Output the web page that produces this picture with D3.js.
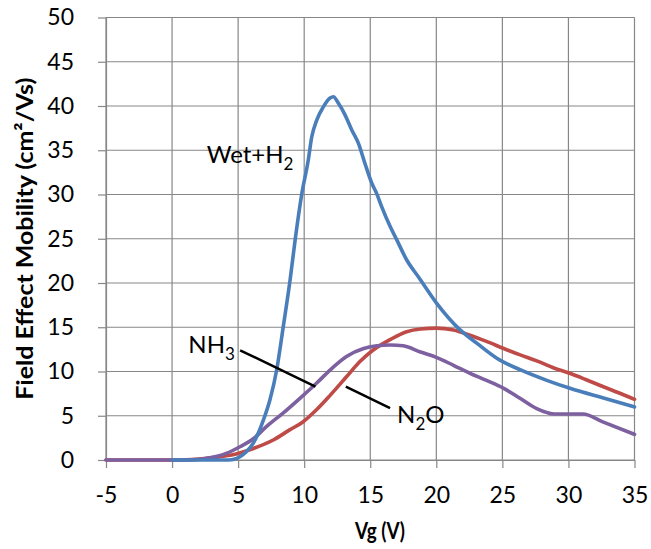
<!DOCTYPE html>
<html>
<head>
<meta charset="utf-8">
<script src="https://cdn.jsdelivr.net/npm/d3@7"></script>
<style>
  html, body { margin: 0; padding: 0; background: #fff; }
  svg { display: block; font-family: Lato, "Open Sans", sans-serif; }
</style>
</head>
<body>
<svg id="chart" width="651" height="549"></svg>
<script>
// ---- data ----
const xTicks = [-5, 0, 5, 10, 15, 20, 25, 30, 35];
const yTicks = [0, 5, 10, 15, 20, 25, 30, 35, 40, 45, 50];

const n2oVg = [-5, 0, 1, 2, 3, 4, 4.6, 6.15, 7.66, 8.9, 9.9, 10.95, 11.96, 13.2, 14.2, 15.2, 16.5, 17.76, 18.8, 20, 21.3, 22.55, 23.8, 25.1, 26.3, 27.6, 28.9, 30.1, 31.3, 32.6, 33.8, 35];
const n2oMu = [0, 0, 0.02, 0.1, 0.25, 0.45, 0.6, 1.3, 2.26, 3.4, 4.3, 5.7, 7.3, 9.4, 11.1, 12.4, 13.6, 14.5, 14.8, 14.9, 14.7, 14.1, 13.4, 12.6, 11.9, 11.2, 10.4, 9.8, 9.1, 8.3, 7.6, 6.85];

const nh3Vg = [-5, 0, 1, 2, 2.6, 3.5, 4.1, 5.14, 6.15, 7.16, 8.4, 9.7, 10.95, 12.2, 13.2, 14.5, 15.5, 16.5, 17.5, 18.8, 20, 21.3, 22.55, 23.8, 25.1, 26.3, 27.6, 28.9, 30.1, 31.1, 32.6, 35];
const nh3Mu = [0, 0, 0, 0.05, 0.2, 0.45, 0.75, 1.5, 2.4, 3.8, 5.3, 7.0, 8.7, 10.5, 11.7, 12.6, 12.9, 13.0, 12.9, 12.2, 11.6, 10.7, 9.8, 9.0, 8.1, 7.0, 5.8, 5.2, 5.2, 5.2, 4.3, 2.9];

const wetVg = [0, 1, 2, 3, 4, 4.5, 5.14, 5.6, 6.15, 6.91, 7.41, 7.92, 8.42, 8.93, 9.31, 9.81, 10.31, 10.57, 10.95, 11.45, 11.96, 12.21, 12.59, 13.09, 13.6, 14.1, 14.6, 15.11, 15.49, 15.87, 16.5, 17.0, 17.76, 18.64, 20.03, 21.8, 23.06, 24.58, 26.34, 28.36, 30.12, 32.65, 35];
const wetMu = [0, 0, 0, 0, 0, 0.02, 0.37, 0.9, 1.9, 4.5, 6.8, 10.2, 15.1, 20.3, 24.8, 30, 33.9, 36.5, 38.4, 39.9, 40.9, 41.05, 40.3, 39, 37.3, 35.8, 33.5, 31.3, 30.1, 28.6, 26.4, 24.9, 22.6, 20.7, 17.7, 14.7, 13.2, 11.5, 10.2, 9.0, 8.1, 7.0, 6.0];

const seriesNames = ["N2O", "NH3", "Wet+H2"];
const seriesColors = ["#BE4B48", "#7D60A0", "#4A7EBB"];

// ---- layout ----
const W = 651, H = 549;
const margin = { top: 17.5, right: 16.5, bottom: 89, left: 106 };
const iw = W - margin.left - margin.right;
const ih = H - margin.top - margin.bottom;

const svg = d3.select("#chart");
const g = svg.append("g").attr("transform", `translate(${margin.left},${margin.top})`);

const x = d3.scaleLinear().domain([-5, 35]).range([0, iw]);
const y = d3.scaleLinear().domain([0, 50]).range([ih, 0]);

const gridColor = "#878787";

// gridlines
g.append("g").selectAll("line").data(yTicks).join("line")
  .attr("x1", 0).attr("x2", iw)
  .attr("y1", d => y(d)).attr("y2", d => y(d))
  .attr("stroke", gridColor).attr("stroke-width", 1.2);
g.append("g").selectAll("line").data(xTicks).join("line")
  .attr("x1", d => x(d)).attr("x2", d => x(d))
  .attr("y1", 0).attr("y2", ih)
  .attr("stroke", gridColor).attr("stroke-width", 1.2);

// axes
const fmt = d => String(d);
const yAxis = g.append("g")
  .call(d3.axisLeft(y).tickValues(yTicks).tickFormat(fmt).tickSizeInner(8).tickSizeOuter(0).tickPadding(24));
const xAxis = g.append("g").attr("transform", `translate(0,${ih})`)
  .call(d3.axisBottom(x).tickValues(xTicks).tickFormat(fmt).tickSizeInner(8).tickSizeOuter(0).tickPadding(18.5));
[yAxis, xAxis].forEach(a => {
  a.attr("font-size", 23).attr("font-family", "Lato, sans-serif");
  a.selectAll("path, line").attr("stroke", gridColor).attr("stroke-width", 1.2);
  a.selectAll("text").attr("fill", "#000");
});

// series
const line = d3.line().x(d => x(d[0])).y(d => y(d[1])).curve(d3.curveMonotoneX);
const seriesData = [
  d3.zip(n2oVg, n2oMu),
  d3.zip(nh3Vg, nh3Mu),
  d3.zip(wetVg, wetMu)
];
seriesData.forEach((data, i) => {
  g.append("path").datum(data)
    .attr("fill", "none")
    .attr("stroke", seriesColors[i])
    .attr("stroke-width", 3.6)
    .attr("stroke-linejoin", "round")
    .attr("stroke-linecap", "round")
    .attr("d", line);
});

// annotations (positions in data coordinates)
const ann = svg.append("g").attr("transform", `translate(${margin.left},${margin.top})`);
function label(tx, ty, main, sub, after) {
  const t = ann.append("text")
    .attr("x", x(tx)).attr("y", y(ty))
    .style("font-size", "24px").attr("fill", "#000");
  t.append("tspan").text(main);
  t.append("tspan").text(sub).style("font-size", "17px").attr("dy", 7);
  if (after) t.append("tspan").text(after).attr("dy", -7);
}
label(2.62, 33.6, "Wet+H", "2");
label(1.23, 12.06, "NH", "3");
label(17.03, 4.18, "N", "2", "O");

ann.append("line")
  .attr("x1", x(5.15)).attr("y1", y(12.4))
  .attr("x2", x(10.85)).attr("y2", y(8.3))
  .attr("stroke", "#000").attr("stroke-width", 2.5);
ann.append("line")
  .attr("x1", x(13.15)).attr("y1", y(8.3))
  .attr("x2", x(16.5)).attr("y2", y(5.85))
  .attr("stroke", "#000").attr("stroke-width", 2.5);

// axis titles
svg.append("text")
  .attr("x", 380).attr("y", 539)
  .attr("text-anchor", "middle")
  .attr("textLength", 50).attr("lengthAdjust", "spacingAndGlyphs")
  .style("font-size", "23px").style("font-weight", "bold")
  .text("Vg (V)");

svg.append("text")
  .attr("transform", `translate(33,${margin.top + ih / 2}) rotate(-90)`)
  .attr("text-anchor", "middle")
  .attr("textLength", 322).attr("lengthAdjust", "spacingAndGlyphs")
  .style("font-size", "23px").style("font-weight", "bold")
  .text("Field Effect Mobility (cm²/Vs)");
</script>
</body>
</html>
